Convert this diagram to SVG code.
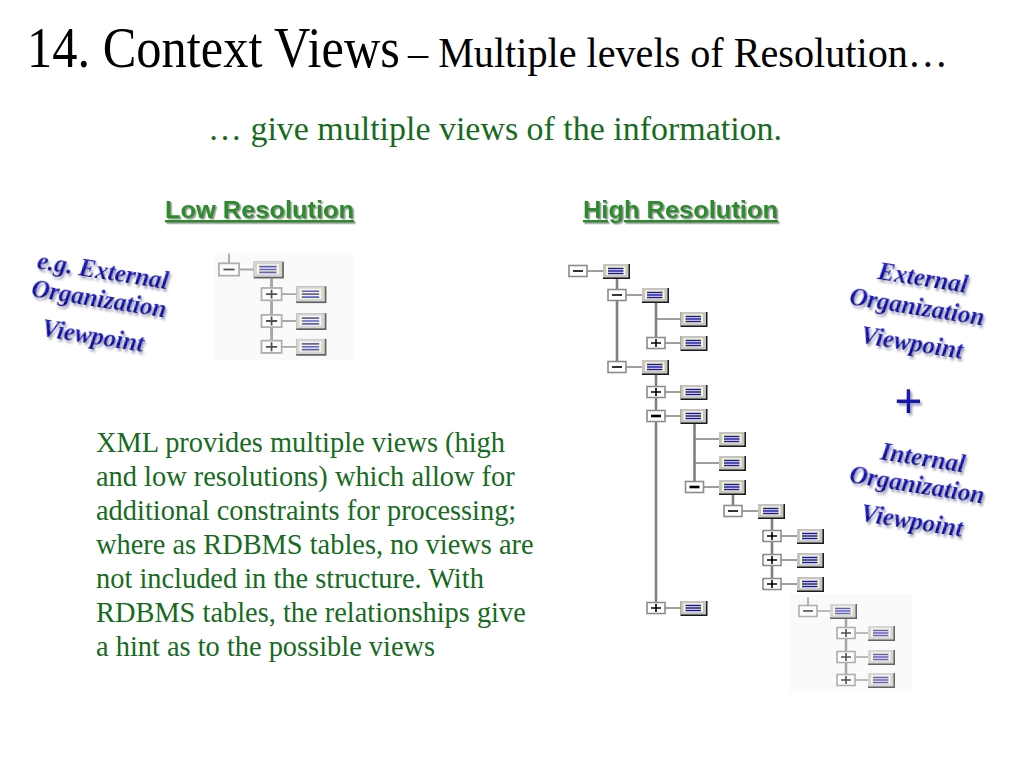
<svg xmlns="http://www.w3.org/2000/svg" width="1024" height="768" viewBox="0 0 1024 768">
<defs>
<style>
.title{font-family:"Liberation Serif","Times New Roman",serif;fill:#000}
.sub{font-family:"Liberation Serif","Times New Roman",serif;fill:#176b1f;font-size:34px}
.body{font-family:"Liberation Serif","Times New Roman",serif;fill:#176b1f;font-size:28.4px}
.head{font-family:"Liberation Sans",Arial,sans-serif;font-weight:bold;font-size:24px;fill:#2b8c2b;text-decoration:underline;filter:url(#gshadow)}
.wa{font-family:"Liberation Serif","Times New Roman",serif;font-weight:bold;font-style:italic;font-size:25px;fill:url(#blue);text-anchor:middle;filter:url(#bshadow)}
.trunk{stroke:#808080;stroke-width:2.6;fill:none}
.twig{stroke:#808080;stroke-width:1.6;fill:none}
</style>
<linearGradient id="blue" x1="0" y1="0" x2="0" y2="1">
<stop offset="0" stop-color="#2c2cd4"/><stop offset="1" stop-color="#00008c"/>
</linearGradient>
<filter id="bshadow" x="-10%" y="-30%" width="130%" height="180%">
<feDropShadow dx="2" dy="2.5" stdDeviation="1" flood-color="#8a8aa0" flood-opacity="0.8"/>
</filter>
<filter id="gshadow" x="-5%" y="-20%" width="115%" height="160%">
<feDropShadow dx="1.5" dy="1.5" stdDeviation="0.6" flood-color="#777" flood-opacity="0.8"/>
</filter>
<filter id="soft" x="-5%" y="-5%" width="110%" height="110%">
<feGaussianBlur stdDeviation="0.6"/>
</filter>
<g id="el">
<rect x="0" y="-7" width="27" height="15" fill="#1a1a1a"/>
<rect x="0" y="-7" width="25.5" height="13.5" fill="#c4c4c4"/>
<rect x="3" y="-4.8" width="19.5" height="9" fill="#fbf8c8"/>
<path d="M5 -2.6H20.5M5 0H20.5M5 2.6H20.5" stroke="#1818b0" stroke-width="1.5"/>
</g>
<rect id="bx" x="-9" y="-5.5" width="18" height="11" fill="#fff" stroke="#8c8c8c" stroke-width="1.6"/>
<g id="mn"><use href="#bx"/><path d="M-5 0H5" stroke="#000" stroke-width="1.6"/></g>
<g id="mnb"><use href="#bx"/><path d="M-5 0H5" stroke="#000" stroke-width="2.6"/></g>
<g id="pl"><use href="#bx"/><path d="M-5 0H5M0 -4V4" stroke="#000" stroke-width="1.6"/></g>
</defs>

<rect width="1024" height="768" fill="#fff"/>

<!-- title -->
<g id="title">
<text class="title" x="27" y="67" font-size="56" textLength="373" lengthAdjust="spacingAndGlyphs">14. Context Views</text>
<text class="title" x="408" y="67" font-size="43" textLength="540" lengthAdjust="spacingAndGlyphs">– Multiple levels of Resolution…</text>
</g>
<text id="subtitle" class="sub" x="208" y="140" textLength="574" lengthAdjust="spacingAndGlyphs">… give multiple views of the information.</text>

<text id="low-heading" class="head" x="165" y="218" textLength="189" lengthAdjust="spacingAndGlyphs">Low Resolution</text>
<text id="high-heading" class="head" x="583" y="218" textLength="195" lengthAdjust="spacingAndGlyphs">High Resolution</text>

<!-- body text -->
<g id="body-text" class="body">
<text x="96" y="452">XML provides multiple views (high</text>
<text x="96" y="486">and low resolutions) which allow for</text>
<text x="96" y="520">additional constraints for processing;</text>
<text x="96" y="554">where as RDBMS tables, no views are</text>
<text x="96" y="588">not included in the structure. With</text>
<text x="96" y="622">RDBMS tables, the relationships give</text>
<text x="96" y="656">a hint as to the possible views</text>
</g>

<!-- word art left -->
<g id="wordart-left">
<text class="wa" x="103" y="279" transform="rotate(9 103 271)">e.g. External</text>
<text class="wa" x="99" y="307" transform="rotate(9 99 299)">Organization</text>
<text class="wa" x="93" y="344" transform="rotate(9 93 336)">Viewpoint</text>
</g>
<!-- word art right -->
<g id="wordart-external">
<text class="wa" x="923" y="286" transform="rotate(9 923 278)">External</text>
<text class="wa" x="917" y="315" transform="rotate(9 917 307)">Organization</text>
<text class="wa" x="912" y="351" transform="rotate(9 912 343)">Viewpoint</text>
</g>
<text id="plus-sign" class="wa" x="908" y="418" style="font-size:50px">+</text>
<g id="wordart-internal">
<text class="wa" x="923" y="466" transform="rotate(9 923 458)">Internal</text>
<text class="wa" x="917" y="493" transform="rotate(9 917 485)">Organization</text>
<text class="wa" x="912" y="529" transform="rotate(9 912 521)">Viewpoint</text>
</g>

<!-- low resolution tree (faded) -->
<rect x="215" y="252" width="138" height="108" fill="#fafafa"/>
<g id="low-res-tree" transform="translate(229,269.5) scale(1.12)" opacity="0.68" filter="url(#soft)">
<g id="low-connectors">
<path class="twig" d="M0 -14V-5.5M9 0H22M47 22H60M47 46H60M47 69H60"/>
<path class="trunk" d="M38 8V63.5"/>
</g>
<g id="low-root-toggle"><use href="#mn"/></g>
<g id="low-root"><use href="#el" x="22" y="0"/></g>
<g id="low-t1"><use href="#pl" x="38" y="22"/></g>
<g id="low-c1"><use href="#el" x="60" y="22"/></g>
<g id="low-t2"><use href="#pl" x="38" y="46"/></g>
<g id="low-c2"><use href="#el" x="60" y="46"/></g>
<g id="low-t3"><use href="#pl" x="38" y="69"/></g>
<g id="low-c3"><use href="#el" x="60" y="69"/></g>
</g>

<!-- high resolution tree -->
<g id="high-res-tree">
<g id="connectors">
<path class="trunk" d="M617 279V361.5M656 303V337.5M656 375V602.5M694.5 424V481.5M733 495V505.5M772 519V578.5"/>
<path class="twig" d="M587 271H603M626 295H642M656 319H680.5M665 343H680.5M626 367H642M665 392H680.5M665 416H680.5M694.5 439H719M694.5 463H719M703.5 487H719M742 511H758M781 536H797M781 560H797M781 584H797M665 608H680.5"/>
</g>
<g id="t-root"><use href="#mn" x="578" y="271"/></g>
<g id="n-root"><use href="#el" x="603" y="271"/></g>
<g id="t-a"><use href="#mn" x="617" y="295"/></g>
<g id="n-a"><use href="#el" x="642" y="295"/></g>
<g id="n-a1"><use href="#el" x="680.5" y="319"/></g>
<g id="t-a2"><use href="#pl" x="656" y="343"/></g>
<g id="n-a2"><use href="#el" x="680.5" y="343"/></g>
<g id="t-b"><use href="#mn" x="617" y="367"/></g>
<g id="n-b"><use href="#el" x="642" y="367"/></g>
<g id="t-b1"><use href="#pl" x="656" y="392"/></g>
<g id="n-b1"><use href="#el" x="680.5" y="392"/></g>
<g id="t-b2"><use href="#mnb" x="656" y="416"/></g>
<g id="n-b2"><use href="#el" x="680.5" y="416"/></g>
<g id="n-b21"><use href="#el" x="719" y="439"/></g>
<g id="n-b22"><use href="#el" x="719" y="463"/></g>
<g id="t-b23"><use href="#mnb" x="694.5" y="487"/></g>
<g id="n-b23"><use href="#el" x="719" y="487"/></g>
<g id="t-c"><use href="#mn" x="733" y="511"/></g>
<g id="n-c"><use href="#el" x="758" y="511"/></g>
<g id="t-c1"><use href="#pl" x="772" y="536"/></g>
<g id="n-c1"><use href="#el" x="797" y="536"/></g>
<g id="t-c2"><use href="#pl" x="772" y="560"/></g>
<g id="n-c2"><use href="#el" x="797" y="560"/></g>
<g id="t-c3"><use href="#pl" x="772" y="584"/></g>
<g id="n-c3"><use href="#el" x="797" y="584"/></g>
<g id="t-b3"><use href="#pl" x="656" y="608"/></g>
<g id="n-b3"><use href="#el" x="680.5" y="608"/></g>
</g>

<!-- faded sub tree bottom right -->
<rect x="790" y="594" width="122" height="98" fill="#fafafa"/>
<g id="faded-tree" transform="translate(808,611)" opacity="0.68" filter="url(#soft)">
<g id="faded-connectors">
<path class="twig" d="M0 -14V-5.5M9 0H22M47 22H60M47 46H60M47 69H60"/>
<path class="trunk" d="M38 8V63.5"/>
</g>
<g id="f-root-toggle"><use href="#mn"/></g>
<g id="f-root"><use href="#el" x="22" y="0"/></g>
<g id="f-t1"><use href="#pl" x="38" y="22"/></g>
<g id="f-c1"><use href="#el" x="60" y="22"/></g>
<g id="f-t2"><use href="#pl" x="38" y="46"/></g>
<g id="f-c2"><use href="#el" x="60" y="46"/></g>
<g id="f-t3"><use href="#pl" x="38" y="69"/></g>
<g id="f-c3"><use href="#el" x="60" y="69"/></g>
</g>
</svg>
